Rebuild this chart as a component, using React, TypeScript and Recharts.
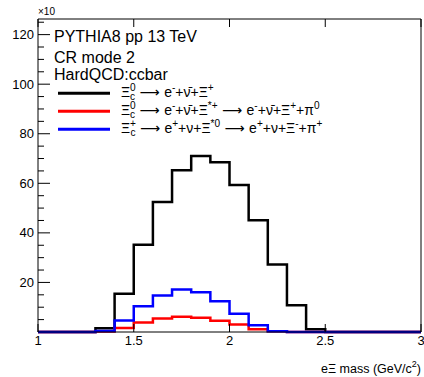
import * as React from 'react';
import { LineChart, Line, XAxis, YAxis } from 'recharts';

// bin edges (GeV/c^2), 20 bins of 0.1
const binEdges = [1.0, 1.1, 1.2, 1.3, 1.4, 1.5, 1.6, 1.7, 1.8, 1.9, 2.0, 2.1, 2.2, 2.3, 2.4, 2.5, 2.6, 2.7, 2.8, 2.9, 3.0];

// counts per bin, in units of x10
const xic0Direct = [0, 0, 0, 1.5, 15.4, 35.2, 52.5, 65.3, 71.0, 68.5, 59.3, 45.1, 27.2, 10.8, 1.1, 0, 0, 0, 0, 0];
const xic0ViaStar = [0, 0, 0, 0.2, 1.6, 3.8, 5.4, 6.2, 5.7, 4.5, 3.0, 1.1, 0.3, 0, 0, 0, 0, 0, 0, 0];
const xicPlusViaStar = [0, 0, 0, 0.4, 4.6, 10.4, 14.7, 17.1, 16.0, 12.4, 7.4, 2.7, 0.3, 0, 0, 0, 0, 0, 0, 0];

const xTicks = [1, 1.5, 2, 2.5, 3];
const xLabels = ['1', '1.5', '2', '2.5', '3'];
const yTicks = [5, 10, 15, 20, 25, 30, 35, 40, 45, 50, 55, 60, 65, 70, 75, 80, 85, 90, 95, 100, 105, 110, 115, 120, 125];
const yLabels = [20, 40, 60, 80, 100, 120];

const headerLines = ['PYTHIA8 pp 13 TeV', 'CR mode 2', 'HardQCD:ccbar'];

type Part = { t: string; k?: 'sup' | 'sub' | 'arrow'; back?: boolean };

const ARROW: Part = { t: ' ⟶ ', k: 'arrow' };

const legendRows: { color: string; parts: Part[] }[] = [
  {
    color: '#000000',
    parts: [
      { t: 'Ξ' }, { t: '0', k: 'sup' }, { t: 'c', k: 'sub', back: true },
      ARROW, { t: 'e' }, { t: '-', k: 'sup' }, { t: '+ν̄+Ξ' }, { t: '+', k: 'sup' },
    ],
  },
  {
    color: '#ff0000',
    parts: [
      { t: 'Ξ' }, { t: '0', k: 'sup' }, { t: 'c', k: 'sub', back: true },
      ARROW, { t: 'e' }, { t: '-', k: 'sup' }, { t: '+ν̄+Ξ' }, { t: '*+', k: 'sup' },
      ARROW, { t: 'e' }, { t: '-', k: 'sup' }, { t: '+ν̄+Ξ' }, { t: '+', k: 'sup' }, { t: '+π' }, { t: '0', k: 'sup' },
    ],
  },
  {
    color: '#0000ff',
    parts: [
      { t: 'Ξ' }, { t: '+', k: 'sup' }, { t: 'c', k: 'sub', back: true },
      ARROW, { t: 'e' }, { t: '+', k: 'sup' }, { t: '+ν+Ξ' }, { t: '*0', k: 'sup' },
      ARROW, { t: 'e' }, { t: '+', k: 'sup' }, { t: '+ν+Ξ' }, { t: '-', k: 'sup' }, { t: '+π' }, { t: '+', k: 'sup' },
    ],
  },
];

const data = binEdges.map((x, i) => {
  const b = Math.min(i, xic0Direct.length - 1);
  return { x, direct: xic0Direct[b], viaStar: xic0ViaStar[b], plusStar: xicPlusViaStar[b] };
});

const FONT = '"Liberation Sans", Arial, Helvetica, sans-serif';

const makeTick = (side: 'left' | 'right' | 'bottom' | 'top') => (props: any) => {
  const { x, y, payload } = props;
  const v = payload.value;
  if (side === 'left' || side === 'right') {
    const major = yLabels.includes(v);
    const len = major ? 12 : 6;
    const dir = side === 'left' ? 1 : -1;
    return (
      <g>
        <line x1={x} y1={y} x2={x + dir * len} y2={y} stroke="#000" />
        {side === 'left' && major && (
          <text x={x - 4} y={y + 4.5} textAnchor="end" fontSize={13} fontFamily={FONT} fill="#000">{v}</text>
        )}
      </g>
    );
  }
  const dir = side === 'bottom' ? -1 : 1;
  const idx = xTicks.indexOf(v);
  return (
    <g>
      <line x1={x} y1={y} x2={x} y2={y + dir * 8} stroke="#000" />
      {side === 'bottom' && idx >= 0 && (
        <text x={x} y={y + 13} textAnchor="middle" fontSize={13} fontFamily={FONT} fill="#000">{xLabels[idx]}</text>
      )}
    </g>
  );
};

const LatexText = ({ x, y, parts, size }: { x: number; y: number; parts: Part[]; size: number }) => {
  let cur = 0;
  const small = size * 0.72;
  return (
    <text x={x} y={y} fontSize={size} fontFamily={FONT} fill="#000">
      {parts.map((p, i) => {
        const shift = p.k === 'sup' ? -size * 0.42 : p.k === 'sub' ? size * 0.22 : 0;
        const dy = shift - cur;
        cur = shift;
        const fs = p.k === 'sup' || p.k === 'sub' ? small : undefined;
        return (
          <tspan
            key={i} dy={dy} dx={p.back ? -small * 0.556 : undefined} fontSize={fs}
            fontFamily={p.k === 'arrow' ? '"DejaVu Sans", sans-serif' : undefined}
          >
            {p.t}
          </tspan>
        );
      })}
    </text>
  );
};

export default function App() {
  return (
    <div style={{ position: 'absolute', left: 0, top: 0, background: '#fff' }}>
      <LineChart width={424} height={377} data={data} margin={{ top: 0, right: 0, left: 0, bottom: 0 }}>
        <XAxis
          dataKey="x" type="number" domain={[1, 3]} ticks={xTicks} interval={0}
          height={45} tickSize={0} tickMargin={0} tickLine={false}
          axisLine={{ stroke: '#000' }} tick={makeTick('bottom')}
        />
        <XAxis
          xAxisId="top" orientation="top" dataKey="x" type="number" domain={[1, 3]} ticks={xTicks} interval={0}
          height={19} tickSize={0} tickMargin={0} tickLine={false}
          axisLine={{ stroke: '#000' }} tick={makeTick('top')}
        />
        <YAxis
          type="number" domain={[0, 126.3]} ticks={yTicks} interval={0}
          width={38} tickSize={0} tickMargin={0} tickLine={false}
          axisLine={{ stroke: '#000' }} tick={makeTick('left')}
        />
        <YAxis
          yAxisId="right" orientation="right" type="number" domain={[0, 126.3]} ticks={yTicks} interval={0}
          width={3} tickSize={0} tickMargin={0} tickLine={false}
          axisLine={{ stroke: '#000' }} tick={makeTick('right')}
        />
        <Line type="stepAfter" dataKey="direct" stroke="#000000" strokeWidth={2.5} dot={false} isAnimationActive={false} />
        <Line type="stepAfter" dataKey="viaStar" stroke="#ff0000" strokeWidth={2.5} dot={false} isAnimationActive={false} />
        <Line type="stepAfter" dataKey="plusStar" stroke="#0000ff" strokeWidth={2.5} dot={false} isAnimationActive={false} />

        <text x={38} y={15} fontSize={10} fontFamily={FONT} fill="#000">×10</text>
        {headerLines.map((t, i) => (
          <text key={t} x={54} y={[41.5, 62.5, 79.5][i]} fontSize={16} fontFamily={FONT} fill="#000">{t}</text>
        ))}
        {legendRows.map((r, i) => (
          <g key={i}>
            <line x1={58} x2={110} y1={93.3 + i * 18} y2={93.3 + i * 18} stroke={r.color} strokeWidth={3} />
            <LatexText x={121} y={97 + i * 18} parts={r.parts} size={14} />
          </g>
        ))}
        <text x={421} y={373} textAnchor="end" fontSize={12.5} fontFamily={FONT} fill="#000">
          eΞ mass (GeV/c<tspan dy={-6} fontSize={9}>2</tspan><tspan dy={6}>)</tspan>
        </text>
      </LineChart>
    </div>
  );
}
